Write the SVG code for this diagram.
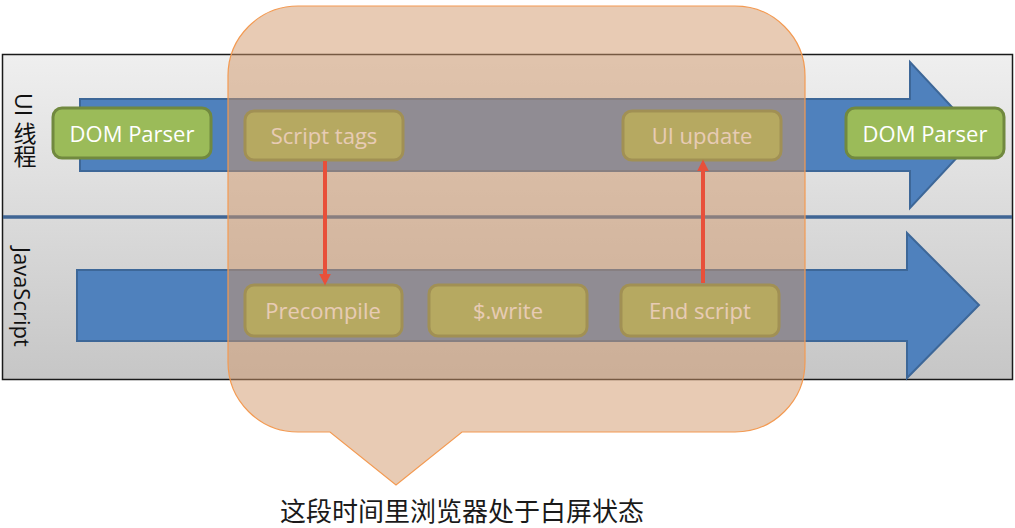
<svg xmlns="http://www.w3.org/2000/svg" width="1015" height="528" viewBox="0 0 1015 528">
<defs>
<linearGradient id="panelGrad" x1="0" y1="0" x2="0" y2="1">
<stop offset="0" stop-color="#efefef"/>
<stop offset="1" stop-color="#c6c6c6"/>
</linearGradient>
<marker id="ah" viewBox="0 0 10 10" refX="7" refY="5" markerWidth="3" markerHeight="3" orient="auto">
<path d="M0,0 L10,5 L0,10 Z" fill="#e8503a"/>
</marker>
<style>
.node rect{fill:#9bbb59;stroke:#71893f;stroke-width:3}
.node text{fill:#ffffff;font-family:"Open Sans","Liberation Sans",sans-serif;font-size:22px;text-anchor:middle;dominant-baseline:central}
.band{fill:#4f81bd;stroke:#3d6798;stroke-width:2}
.lbl{font-family:"Open Sans","Noto Sans CJK SC",sans-serif;font-size:23px;fill:#111;writing-mode:vertical-rl}
.conn{stroke:#e8503a;stroke-width:4;fill:none;marker-end:url(#ah)}
</style>
</defs>
<g id="background">
<rect x="2.5" y="54.5" width="1010" height="325" fill="url(#panelGrad)" stroke="#1a1a1a" stroke-width="1.5"/>
<line x1="3" y1="217" x2="1012" y2="217" stroke="#3f6594" stroke-width="3.5"/>
<path class="band" d="M80,99 H910 V62 L978,135 L910,208 V171 H80 Z"/>
<path class="band" d="M77,270 H907 V233 L979,305 L907,378 V341 H77 Z"/>
<text class="lbl" x="24" y="93">UI 线程</text>
<text class="lbl" x="23" y="247" style="font-size:22px">JavaScript</text>
</g>
<g id="dom-parser-1" class="node"><rect x="53" y="108" width="158" height="50" rx="9"/><text x="132" y="133">DOM Parser</text></g>
<g id="script-tags" class="node"><rect x="245" y="111" width="158" height="49" rx="9"/><text x="324" y="135">Script tags</text></g>
<g id="ui-update" class="node"><rect x="623" y="111" width="158" height="49" rx="9"/><text x="702" y="135">UI update</text></g>
<g id="dom-parser-2" class="node"><rect x="846" y="108" width="158" height="50" rx="9"/><text x="925" y="133">DOM Parser</text></g>
<g id="precompile" class="node"><rect x="245" y="285" width="157" height="51" rx="9"/><text x="323" y="310">Precompile</text></g>
<g id="write" class="node"><rect x="429" y="285" width="158" height="51" rx="9"/><text x="508" y="310">$.write</text></g>
<g id="end-script" class="node"><rect x="621" y="285" width="158" height="51" rx="9"/><text x="700" y="310">End script</text></g>
<g id="callout">
<path d="M298,6 H735 A70,70 0 0 1 805,76 V362 A70,70 0 0 1 735,432 H462 L396,485 L330,432 H298 A70,70 0 0 1 228,362 V76 A70,70 0 0 1 298,6 Z" fill="#d19769" fill-opacity="0.5" stroke="#f39a52" stroke-width="1.2"/>
</g>
<g id="connectors">
<line class="conn" x1="325" y1="161" x2="325" y2="282"/>
<line class="conn" x1="703" y1="283" x2="703" y2="163"/>
</g>
<text x="462" y="521" font-family="'Noto Sans CJK SC',sans-serif" font-size="26" fill="#1a1a1a" text-anchor="middle">这段时间里浏览器处于白屏状态</text>
</svg>
